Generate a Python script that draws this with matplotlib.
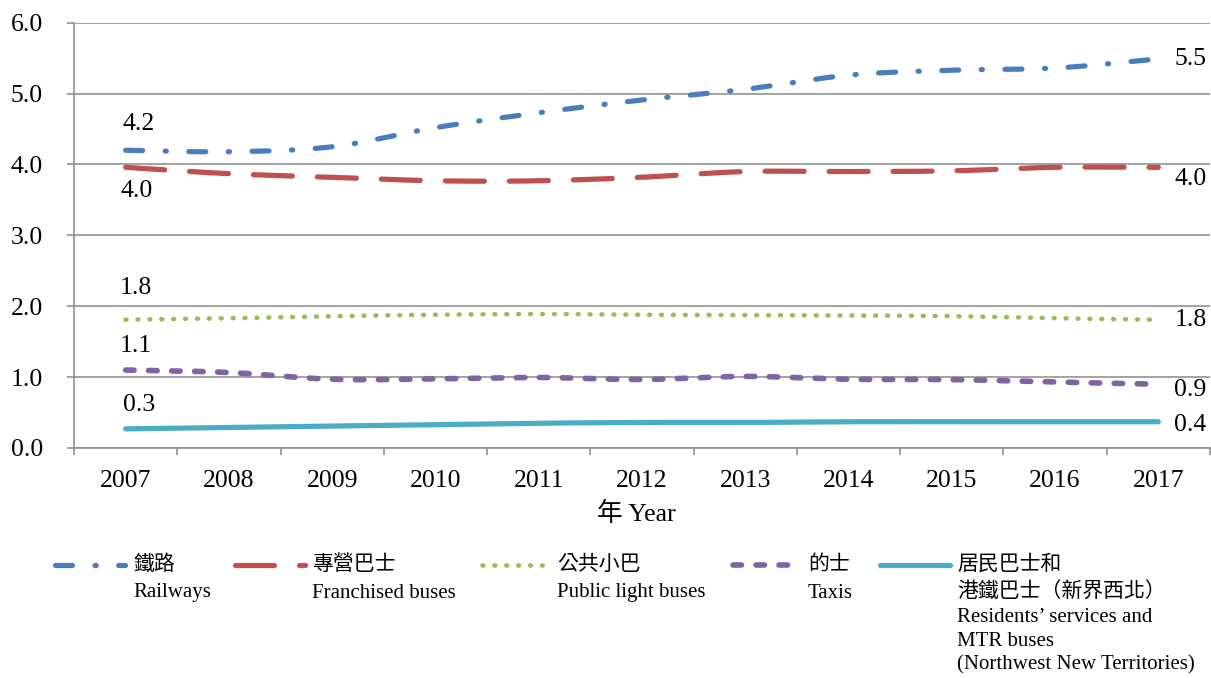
import numpy as np
import matplotlib
matplotlib.use("Agg")
import matplotlib.pyplot as plt
from matplotlib.lines import Line2D

# Average journey share data (in line order, 2007-2017)
years = [2007, 2008, 2009, 2010, 2011, 2012, 2013, 2014, 2015, 2016, 2017]
railways = [4.20, 4.18, 4.25, 4.52, 4.73, 4.91, 5.06, 5.26, 5.33, 5.36, 5.49]
franchised_buses = [3.96, 3.87, 3.82, 3.77, 3.77, 3.82, 3.90, 3.90, 3.91, 3.96, 3.96]
public_light_buses = [1.81, 1.83, 1.86, 1.88, 1.89, 1.88, 1.875, 1.87, 1.86, 1.83, 1.81]
taxis = [1.10, 1.065, 0.97, 0.975, 0.995, 0.967, 1.01, 0.97, 0.965, 0.93, 0.90]
residents_mtr_buses = [0.27, 0.29, 0.31, 0.33, 0.35, 0.36, 0.36, 0.37, 0.37, 0.37, 0.37]

legend_labels = [
    ["鐵路", "Railways"],
    ["專營巴士", "Franchised buses"],
    ["公共小巴", "Public light buses"],
    ["的士", "Taxis"],
    ["居民巴士和", "港鐵巴士（新界西北）", "Residents\u2019 services and",
     "MTR buses", "(Northwest New Territories)"],
]
y_ticks = [0, 1, 2, 3, 4, 5, 6]
x_title = "年 Year"

plt.rcParams["font.family"] = ["Liberation Serif", "Noto Sans CJK TC"]
plt.rcParams["lines.scale_dashes"] = False

PX = 0.72  # points per pixel at 100 dpi
W, H = 1211, 678
fig = plt.figure(figsize=(W / 100, H / 100), dpi=100)

left_px, right_px, top_px, bottom_px = 74, 1210, 22.7, 448
ax = fig.add_axes([left_px / W, (H - bottom_px) / H,
                   (right_px - left_px) / W, (bottom_px - top_px) / H])

grid_gray = "#898989"

styles = [
    dict(color="#4A7EBB", lw=5.2 * PX, dashes=(17 * PX, 22.5 * PX, 1.2 * PX, 22.5 * PX)),
    dict(color="#C0504D", lw=5.2 * PX, dashes=(39 * PX, 25 * PX)),
    dict(color="#9BBB59", lw=4.6 * PX, dashes=(0.8 * PX, 11.1 * PX)),
    dict(color="#8064A2", lw=5.6 * PX, dashes=(8.5 * PX, 14.5 * PX)),
    dict(color="#4BACC6", lw=5.2 * PX, dashes=None),
]
series = [railways, franchised_buses, public_light_buses, taxis, residents_mtr_buses]


def smooth(xs, ys, n=24):
    """Catmull-Rom curve through the given points."""
    xs = np.asarray(xs, float)
    ys = np.asarray(ys, float)
    px = np.concatenate([[2 * xs[0] - xs[1]], xs, [2 * xs[-1] - xs[-2]]])
    py = np.concatenate([[2 * ys[0] - ys[1]], ys, [2 * ys[-1] - ys[-2]]])
    out_x, out_y = [], []
    t = np.linspace(0, 1, n, endpoint=False)
    for i in range(1, len(px) - 2):
        for arr, out in ((px, out_x), (py, out_y)):
            p0, p1, p2, p3 = arr[i - 1], arr[i], arr[i + 1], arr[i + 2]
            out.extend(0.5 * ((2 * p1) + (-p0 + p2) * t
                              + (2 * p0 - 5 * p1 + 4 * p2 - p3) * t ** 2
                              + (-p0 + 3 * p1 - 3 * p2 + p3) * t ** 3))
    out_x.append(xs[-1])
    out_y.append(ys[-1])
    return np.array(out_x), np.array(out_y)


xidx = np.arange(len(years))
for vals, st in zip(series, styles):
    sx, sy = smooth(xidx, vals)
    kw = dict(color=st["color"], lw=st["lw"], solid_capstyle="round",
              dash_capstyle="round", zorder=3)
    line, = ax.plot(sx, sy, **kw)
    if st["dashes"] is not None:
        line.set_dashes(st["dashes"])

# Value labels at the first and last year
first_offsets = [(13, 26), (11, -24), (10, 32), (10, 24), (13, 24)]
last_offsets = [(16, 0), (16, -12), (16, 0), (16, -6), (16, -3)]
for vals, (fdx, fdy), (ldx, ldy) in zip(series, first_offsets, last_offsets):
    ax.annotate(f"{vals[0]:.1f}", (0, vals[0]), xytext=(fdx * PX, fdy * PX),
                textcoords="offset points", ha="center", va="center",
                fontsize=18.5, zorder=4)
    ax.annotate(f"{vals[-1]:.1f}", (len(years) - 1, vals[-1]),
                xytext=(ldx * PX, ldy * PX), textcoords="offset points",
                ha="left", va="center", fontsize=18.5, zorder=4,
                annotation_clip=False)

ax.set_xlim(-0.5, len(years) - 0.5)
ax.set_ylim(0, 6)
ax.set_yticks(y_ticks)
ax.set_yticklabels([f"{v:.1f}" for v in y_ticks], fontsize=18.5)
ax.tick_params(axis="y", length=7 * PX, width=1.1, color=grid_gray,
               pad=24 * PX, direction="out")

ax.set_xticks(np.arange(-0.5, len(years)), labels=[""] * (len(years) + 1))
ax.set_xticks(xidx, labels=[str(y) for y in years], minor=True)
ax.tick_params(axis="x", which="major", length=7 * PX, width=1.1,
               color=grid_gray, direction="out")
ax.tick_params(axis="x", which="minor", length=0, pad=16, labelsize=18.5)

ax.yaxis.grid(True, color=grid_gray, lw=1.1, zorder=0)
ax.set_axisbelow(True)
for side in ("top", "right"):
    ax.spines[side].set_visible(False)
for side in ("left", "bottom"):
    ax.spines[side].set_color(grid_gray)
    ax.spines[side].set_linewidth(1.1)

fig.text(636 / W, 1 - 514 / H, x_title, ha="center", va="center", fontsize=18.5)

# Legend along the bottom
sample_x = [(55, 125), (235, 305), (482, 550), (733, 790), (880, 950)]
text_x = [133, 312, 557, 808, 957]
row_y = [565, 593, 618, 642, 665]
for st, (x0, x1), tx, labels in zip(styles, sample_x, text_x, legend_labels):
    ln = Line2D([x0 / W, x1 / W], [1 - row_y[0] / H] * 2,
                transform=fig.transFigure, color=st["color"], lw=st["lw"],
                solid_capstyle="round", dash_capstyle="round")
    if st["dashes"] is not None:
        ln.set_dashes(st["dashes"])
    fig.add_artist(ln)
    for i, lab in enumerate(labels):
        fig.text(tx / W, 1 - row_y[i] / H, lab, ha="left", va="center",
                 fontsize=15)

fig.savefig("out.png", dpi=100, facecolor="white")
